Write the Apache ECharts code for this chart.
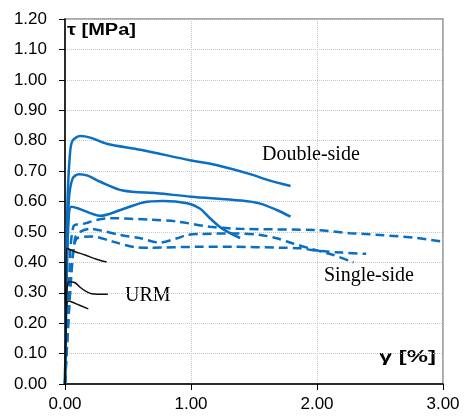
<!DOCTYPE html>
<html>
<head>
<meta charset="utf-8">
<script src="https://cdn.jsdelivr.net/npm/echarts@6/dist/echarts.min.js"></script>
<style>
html, body { margin: 0; padding: 0; background: #fff; }
#chart { width: 466px; height: 417px; }
</style>
</head>
<body>
<div id="chart"></div>
<script>
// double-side (solid blue)
var ds1 = [[0,0],[0.01,0.3],[0.02,0.6],[0.04,0.76],[0.06,0.80],[0.12,0.815],[0.2,0.81],[0.33,0.79],[0.6,0.77],[1.0,0.735],[1.2,0.72],[1.47,0.69],[1.6,0.672],[1.79,0.651]];
var ds2 = [[0,0],[0.01,0.3],[0.03,0.6],[0.06,0.675],[0.11,0.69],[0.18,0.685],[0.28,0.665],[0.46,0.636],[0.73,0.627],[1.0,0.616],[1.4,0.603],[1.55,0.593],[1.68,0.572],[1.79,0.55]];
var ds3 = [[0,0],[0.01,0.3],[0.03,0.55],[0.05,0.583],[0.1,0.578],[0.28,0.553],[0.44,0.572],[0.62,0.597],[0.78,0.602],[0.97,0.594],[1.07,0.577],[1.15,0.545],[1.25,0.51],[1.39,0.48]];
// single-side (dashed blue)
var ss1 = [[0,0],[0.03,0.3],[0.066,0.517],[0.16,0.528],[0.25,0.539],[0.36,0.545],[0.68,0.54],[0.89,0.534],[1.15,0.517],[1.4,0.51],[2.0,0.506],[2.26,0.496],[2.5,0.49],[2.79,0.48],[3.0,0.468]];
var ss2 = [[0,0],[0.04,0.3],[0.08,0.48],[0.12,0.50],[0.2,0.51],[0.28,0.505],[0.44,0.49],[0.6,0.479],[0.75,0.465],[0.89,0.479],[0.97,0.49],[1.07,0.493],[1.33,0.495],[1.55,0.49],[1.68,0.479],[1.81,0.462],[1.94,0.446],[2.13,0.424],[2.29,0.40]];
var ss3 = [[0,0],[0.04,0.3],[0.07,0.45],[0.1,0.48],[0.22,0.485],[0.38,0.468],[0.57,0.449],[0.68,0.448],[1.05,0.451],[1.33,0.451],[1.71,0.448],[1.87,0.446],[2.0,0.438],[2.2,0.432],[2.39,0.428]];
// URM (black)
var u1 = [[0,0],[0.005,0.25],[0.012,0.446],[0.08,0.435],[0.16,0.424],[0.25,0.41],[0.33,0.401]];
var u2 = [[0,0],[0.008,0.2],[0.015,0.31],[0.03,0.336],[0.08,0.333],[0.12,0.318],[0.16,0.306],[0.21,0.297],[0.34,0.295]];
var u3 = [[0,0],[0.008,0.2],[0.015,0.265],[0.03,0.273],[0.08,0.265],[0.185,0.247]];

var blue = '#0a6fc2';

function line(data, color, width, type) {
	return {
		type: 'line',
		data: data,
		smooth: 0.3,
		symbol: 'none',
		silent: true,
		lineStyle: { color: color, width: width, type: type }
	};
}

var myChart = echarts.init(document.getElementById('chart'));

var option = {
	animation: false,
	grid: {
		left: 65, right: 23, top: 19, bottom: 33,
		show: true,
		borderColor: '#8c8c8c',
		borderWidth: 1.5
	},
	xAxis: {
		type: 'value',
		min: 0, max: 3, interval: 1,
		axisLine: { lineStyle: { color: '#000', width: 1.5 } },
		axisTick: { show: true, length: 6, lineStyle: { color: '#000' } },
		axisLabel: {
			margin: 12,
			fontSize: 17,
			color: '#000',
			fontFamily: 'Liberation Sans',
			formatter: function (v) { return v.toFixed(2); }
		},
		splitLine: { lineStyle: { color: '#c8c8c8', type: 'dotted' } }
	},
	yAxis: {
		type: 'value',
		min: 0, max: 1.2, interval: 0.1,
		axisLine: { show: true, lineStyle: { color: '#000', width: 1.5 } },
		axisTick: { show: true, length: 6, lineStyle: { color: '#000' } },
		axisLabel: {
			margin: 18,
			fontSize: 17,
			color: '#000',
			fontFamily: 'Liberation Sans',
			formatter: function (v) { return v.toFixed(2); }
		},
		splitLine: { lineStyle: { color: '#c8c8c8', type: 'dotted' } }
	},
	graphic: [
		{ type: 'text', x: 67, y: 23, scaleX: 1.25, style: { text: 'τ [MPa]', font: 'bold 16px "Liberation Sans"', fill: '#000' } },
		{ type: 'text', x: 379, y: 349, scaleX: 1.4, style: { text: 'γ [%]', font: 'bold 17px "Liberation Sans"', fill: '#000' } },
		{ type: 'text', x: 262, y: 145, style: { text: 'Double-side', font: '20px "Liberation Serif"', fill: '#000' } },
		{ type: 'text', x: 324, y: 266, style: { text: 'Single-side', font: '20px "Liberation Serif"', fill: '#000' } },
		{ type: 'text', x: 125, y: 286, style: { text: 'URM', font: '20px "Liberation Serif"', fill: '#000' } }
	],
	series: [
		line(ss1, blue, 2.5, [9, 5]),
		line(ss2, blue, 2.5, [9, 5]),
		line(ss3, blue, 2.5, [9, 5]),
		line(ds1, blue, 2.5, 'solid'),
		line(ds2, blue, 2.5, 'solid'),
		line(ds3, blue, 2.5, 'solid'),
		line(u1, '#111', 1.5, 'solid'),
		line(u2, '#111', 1.5, 'solid'),
		line(u3, '#111', 1.5, 'solid')
	]
};

myChart.setOption(option);
</script>
</body>
</html>
